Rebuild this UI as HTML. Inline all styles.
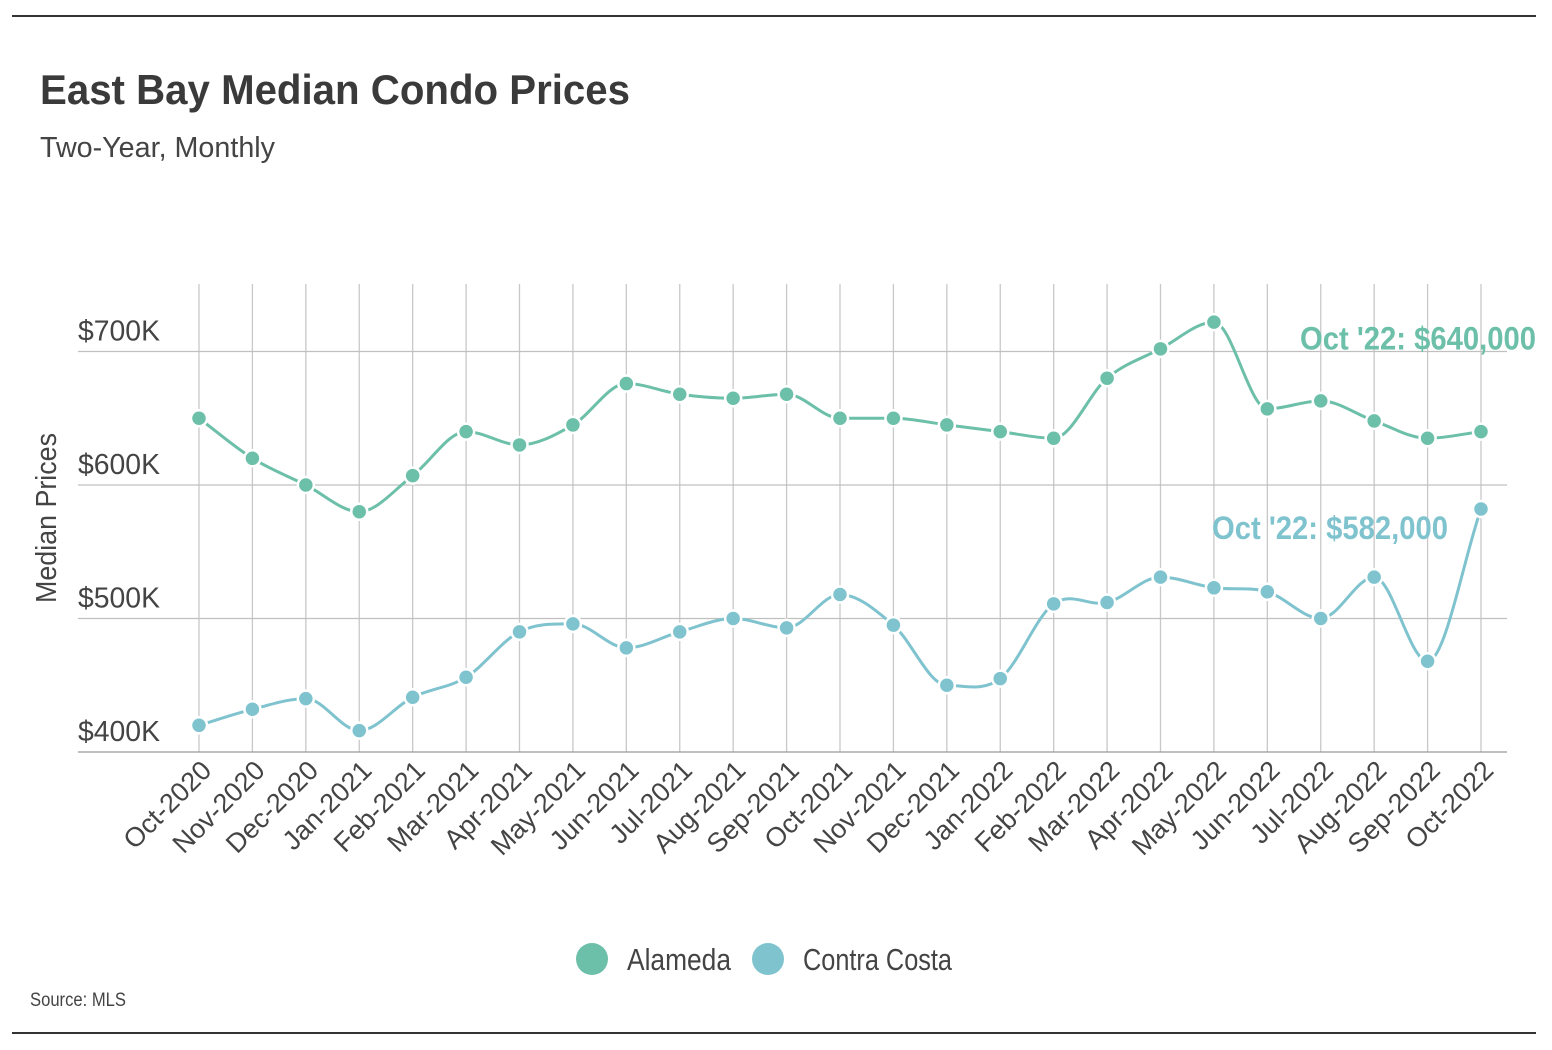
<!DOCTYPE html>
<html><head><meta charset="utf-8"><style>
html,body{margin:0;padding:0;background:#fff;}
svg{display:block;font-family:"Liberation Sans Narrow","Liberation Sans",sans-serif;}
</style></head><body>
<svg id="chart" width="1552" height="1050" viewBox="0 0 1552 1050" xmlns="http://www.w3.org/2000/svg">
<line x1="12" y1="16" x2="1536" y2="16" stroke="#333" stroke-width="2"/>
<line x1="12" y1="1033" x2="1536" y2="1033" stroke="#333" stroke-width="2"/>
<text x="40" y="104" font-size="42" font-weight="bold" fill="#3a3a3a" textLength="590" lengthAdjust="spacingAndGlyphs">East Bay Median Condo Prices</text>
<text x="40" y="157" font-size="29" fill="#444" textLength="235" lengthAdjust="spacingAndGlyphs">Two-Year, Monthly</text>
<text transform="translate(56,518) rotate(-90)" text-anchor="middle" font-size="29" fill="#444" textLength="170" lengthAdjust="spacingAndGlyphs">Median Prices</text>
<text x="30" y="1006" font-size="19" fill="#444" textLength="96" lengthAdjust="spacingAndGlyphs">Source: MLS</text>
<g id="grid"></g><g id="series"></g><g id="labels"></g>
<g>
<circle cx="592" cy="959" r="16" fill="#6cbfa8"/>
<text x="627" y="970" font-size="31" fill="#444" textLength="104" lengthAdjust="spacingAndGlyphs">Alameda</text>
<circle cx="768" cy="959" r="16" fill="#7fc3cf"/>
<text x="803" y="970" font-size="31" fill="#444" textLength="149" lengthAdjust="spacingAndGlyphs">Contra Costa</text>
</g>
</svg>
<script>
const categories=["Oct-2020","Nov-2020","Dec-2020","Jan-2021","Feb-2021","Mar-2021","Apr-2021","May-2021","Jun-2021","Jul-2021","Aug-2021","Sep-2021","Oct-2021","Nov-2021","Dec-2021","Jan-2022","Feb-2022","Mar-2022","Apr-2022","May-2022","Jun-2022","Jul-2022","Aug-2022","Sep-2022","Oct-2022"];
const alameda=[650,620,600,580,607,640,630,645,676,668,665,668,650,650,645,640,635,680,702,722,657,663,648,635,640];
const contraCosta=[420,432,440,416,441,456,490,496,478,490,500,493,518,495,450,455,511,512,531,523,520,500,531,468,582];
const yTicks=[400,500,600,700];
const yTickLabels=["$400K","$500K","$600K","$700K"];
const endLabels=["Oct '22: $640,000","Oct '22: $582,000"];

const NS="http://www.w3.org/2000/svg";
const x0=199,x1=1481,yBase=752,pxPer=1.335;
const xs=i=>x0+(x1-x0)*i/(categories.length-1);
const ys=v=>yBase-(v-400)*pxPer;
function mk(tag,attrs,parent){const e=document.createElementNS(NS,tag);for(const k in attrs)e.setAttribute(k,attrs[k]);parent.appendChild(e);return e;}
const grid=document.getElementById('grid'),series=document.getElementById('series'),labels=document.getElementById('labels');
categories.forEach((c,i)=>{
  const l=mk('line',{x1:xs(i),x2:xs(i),y1:284,y2:752,stroke:'#c8c8c8','stroke-width':1.3},grid);
  
  
  const t=mk('text',{transform:`translate(${xs(i)+14},${772}) rotate(-45)`,'text-anchor':'end','font-size':27,fill:'#444'},grid);
  
  
  t.textContent=c;
});
yTicks.forEach((v,i)=>{
  const l=mk('line',{x1:78,x2:1507,y1:ys(v),y2:ys(v),stroke:i===0?'#999':'#c0c0c0','stroke-width':1.3},grid);
  
  
  const t=mk('text',{x:78,y:ys(v)-11,'font-size':29,fill:'#444',textLength:82,lengthAdjust:'spacingAndGlyphs'},grid);
  
  
  t.textContent=yTickLabels[i];
});
function smooth(pts){
  let d=`M${pts[0][0]},${pts[0][1]}`;
  const n=pts.length,m=[];
  for(let i=0;i<n;i++){
    const a=pts[Math.max(0,i-1)],b=pts[Math.min(n-1,i+1)];
    let s=(b[1]-a[1])/(b[0]-a[0]);
    if(i>0&&i<n-1){const s1=pts[i][1]-pts[i-1][1],s2=pts[i+1][1]-pts[i][1];if(s1*s2<=0)s=0;}
    m.push(s);
  }
  for(let i=0;i<n-1;i++){
    const p=pts[i],q=pts[i+1],h=(q[0]-p[0])/3;
    d+=` C${p[0]+h},${p[1]+m[i]*h} ${q[0]-h},${q[1]-m[i+1]*h} ${q[0]},${q[1]}`;
  }
  return d;
}
function draw(vals,color,name){
  const pts=vals.map((v,i)=>[xs(i),ys(v)]);
  const p=mk('path',{d:smooth(pts),fill:'none',stroke:color,'stroke-width':3},series);
  
  
  pts.forEach(pt=>{
    const c=mk('circle',{cx:pt[0],cy:pt[1],r:8,fill:color,stroke:'#fff','stroke-width':2.5},series);
    
    
  });
}
draw(alameda,'#6cbfa8','alameda');
draw(contraCosta,'#7fc3cf','contra-costa');
const a=mk('text',{x:1536,y:ys(alameda[alameda.length-1])-82,'text-anchor':'end','font-size':32,'font-weight':'bold',fill:'#6cbfa8',textLength:236,lengthAdjust:'spacingAndGlyphs'},labels);


a.textContent=endLabels[0];
const b=mk('text',{x:1448,y:ys(contraCosta[contraCosta.length-1])+30,'text-anchor':'end','font-size':32,'font-weight':'bold',fill:'#7fc3cf',textLength:236,lengthAdjust:'spacingAndGlyphs'},labels);


b.textContent=endLabels[1];
</script>
</body></html>
